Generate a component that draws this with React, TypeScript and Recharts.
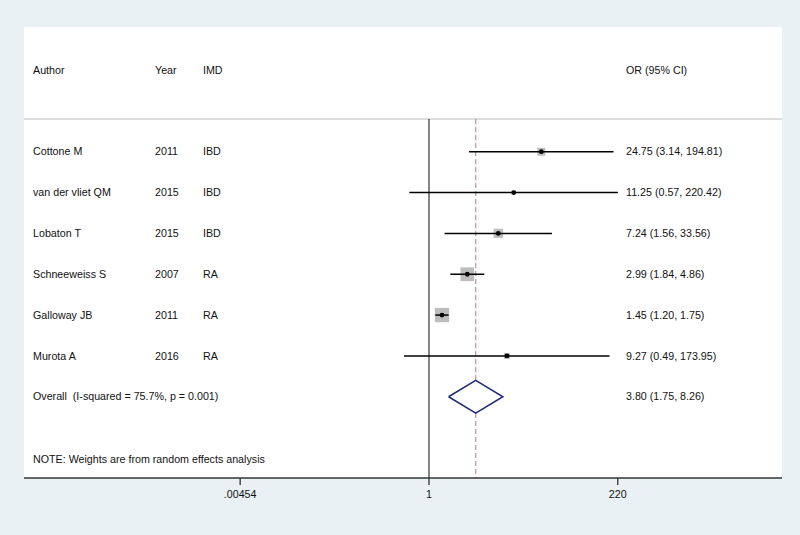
import React from "react";
import {
  ComposedChart,
  Scatter,
  XAxis,
  YAxis,
  ReferenceLine,
  ReferenceArea,
} from "recharts";

// study data
const authors = [
  "Cottone M",
  "van der vliet QM",
  "Lobaton T",
  "Schneeweiss S",
  "Galloway JB",
  "Murota A",
];
const years = [2011, 2015, 2015, 2007, 2011, 2016];
const imd = ["IBD", "IBD", "IBD", "RA", "RA", "RA"];
const orValues = [24.75, 11.25, 7.24, 2.99, 1.45, 9.27];
const ciLow = [3.14, 0.57, 1.56, 1.84, 1.2, 0.49];
const ciHigh = [194.81, 220.42, 33.56, 4.86, 1.75, 173.95];
const weights = [10.7, 2.7, 14.6, 31.5, 34.4, 6.1];

const overallOr = 3.8;
const overallLow = 1.75;
const overallHigh = 8.26;
const iSquared = 75.7;
const pValue = 0.001;

const xTicks = [0.00454, 1, 220];
const xTickLabels = [".00454", "1", "220"];

const FONT = "'Liberation Sans', Arial, Helvetica, sans-serif";
const FS = 10.7;
const TXT = "#111";
const COL_AUTHOR = 33;
const COL_YEAR = 155;
const COL_IMD = 203;
const COL_OR = 626;

// row layout (y in row units, 0 = first study)
const Y_DOMAIN: [number, number] = [-3.054, 7.99];
const Y_HEADER = -2.0;
const Y_SEP = -0.8;
const Y_OVERALL = authors.length;
const Y_NOTE = 7.52;
const DIAMOND_H = 0.4;
const X_DOMAIN: [number, number] = [Math.exp(-11.571), Math.exp(10.086)];

const fmt = (v: number) => v.toFixed(2);

const studies = authors.map((a, i) => ({
  author: a,
  year: years[i],
  imd: imd[i],
  or: orValues[i],
  lo: ciLow[i],
  hi: ciHigh[i],
  w: weights[i],
  y: i,
}));

const ciSegments = studies.map((s) => [
  { or: s.lo, y: s.y },
  { or: s.hi, y: s.y },
]);

const diamond = [
  { or: overallLow, y: Y_OVERALL },
  { or: overallOr, y: Y_OVERALL - DIAMOND_H },
  { or: overallHigh, y: Y_OVERALL },
  { or: overallOr, y: Y_OVERALL + DIAMOND_H },
  { or: overallLow, y: Y_OVERALL },
];

const textRows = [
  { or: 1, y: Y_HEADER, kind: "header" },
  ...studies.map((s) => ({ ...s, kind: "study" })),
  { or: 1, y: Y_OVERALL, kind: "overall" },
  { or: 1, y: Y_NOTE, kind: "note" },
];

const txt = (x: number, y: number, s: string, key: string) => (
  <text
    key={key}
    x={x}
    y={y}
    dy="0.35em"
    fontFamily={FONT}
    fontSize={FS}
    fill={TXT}
    style={{ whiteSpace: "pre" }}
  >
    {s}
  </text>
);

function RowText(props: any) {
  const { cy, payload } = props;
  if (payload.kind === "header") {
    return (
      <g>
        {txt(COL_AUTHOR, cy, "Author", "a")}
        {txt(COL_YEAR, cy, "Year", "y")}
        {txt(COL_IMD, cy, "IMD", "i")}
        {txt(COL_OR, cy, "OR (95% CI)", "o")}
      </g>
    );
  }
  if (payload.kind === "study") {
    return (
      <g>
        {txt(COL_AUTHOR, cy, payload.author, "a")}
        {txt(COL_YEAR, cy, String(payload.year), "y")}
        {txt(COL_IMD, cy, payload.imd, "i")}
        {txt(COL_OR, cy, `${fmt(payload.or)} (${fmt(payload.lo)}, ${fmt(payload.hi)})`, "o")}
      </g>
    );
  }
  if (payload.kind === "overall") {
    return (
      <g>
        {txt(
          COL_AUTHOR,
          cy,
          `Overall  (I-squared = ${iSquared.toFixed(1)}%, p = ${pValue.toFixed(3)})`,
          "a"
        )}
        {txt(COL_OR, cy, `${fmt(overallOr)} (${fmt(overallLow)}, ${fmt(overallHigh)})`, "o")}
      </g>
    );
  }
  return <g>{txt(COL_AUTHOR, cy, "NOTE: Weights are from random effects analysis", "n")}</g>;
}

function WeightBox(props: any) {
  const { cx, cy, payload } = props;
  const side = 2.44 * Math.sqrt(payload.w);
  return <rect x={cx - side / 2} y={cy - side / 2} width={side} height={side} fill="#bdbdbd" />;
}

function Dot(props: any) {
  const { cx, cy } = props;
  return <circle cx={cx} cy={cy} r={2.4} fill="#000" />;
}

const Nothing = () => <g />;

export default function App() {
  return (
    <div
      style={{
        position: "absolute",
        left: 0,
        top: 0,
        width: 800,
        height: 535,
        background: "#e9f1f4",
      }}
    >
      <ComposedChart
        width={800}
        height={535}
        margin={{ top: 27, right: 18, bottom: 0, left: 24 }}
      >
        <XAxis
          type="number"
          dataKey="or"
          scale="log"
          domain={X_DOMAIN}
          allowDataOverflow
          ticks={xTicks}
          tickFormatter={(v: number) => xTickLabels[xTicks.indexOf(v)] ?? String(v)}
          height={57}
          tickSize={7}
          tickMargin={5}
          axisLine={{ stroke: "#333", strokeWidth: 1.3 }}
          tickLine={{ stroke: "#333", strokeWidth: 1.3 }}
          tick={{ fontFamily: FONT, fontSize: FS, fill: TXT }}
        />
        <YAxis type="number" dataKey="y" domain={Y_DOMAIN} reversed hide allowDataOverflow />
        <ReferenceArea
          x1={X_DOMAIN[0]}
          x2={X_DOMAIN[1]}
          y1={Y_DOMAIN[0]}
          y2={Y_DOMAIN[1]}
          fill="#ffffff"
          fillOpacity={1}
          stroke="none"
        />
        <ReferenceLine
          segment={[
            { x: X_DOMAIN[0], y: Y_SEP },
            { x: X_DOMAIN[1], y: Y_SEP },
          ]}
          stroke="#dcdcdc"
          strokeWidth={2}
        />
        <ReferenceLine
          segment={[
            { x: 1, y: Y_SEP },
            { x: 1, y: Y_DOMAIN[1] },
          ]}
          stroke="#333"
          strokeWidth={1.2}
        />
        <ReferenceLine
          segment={[
            { x: overallOr, y: Y_SEP },
            { x: overallOr, y: Y_OVERALL - DIAMOND_H },
          ]}
          stroke="#c49a9e"
          strokeWidth={1.3}
          strokeDasharray="5 3"
        />
        <ReferenceLine
          segment={[
            { x: overallOr, y: Y_OVERALL + DIAMOND_H },
            { x: overallOr, y: Y_DOMAIN[1] },
          ]}
          stroke="#c49a9e"
          strokeWidth={1.3}
          strokeDasharray="5 3"
        />
        <Scatter
          data={studies}
          dataKey="or"
          shape={WeightBox}
          isAnimationActive={false}
        />
        {ciSegments.map((seg, i) => (
          <Scatter
            key={`ci-${i}`}
            data={seg}
            dataKey="or"
            line={{ stroke: "#000", strokeWidth: 1.5, fill: "none" }}
            lineType="joint"
            shape={Nothing}
            isAnimationActive={false}
          />
        ))}
        <Scatter data={studies} dataKey="or" shape={Dot} isAnimationActive={false} />
        <Scatter
          data={diamond}
          dataKey="or"
          line={{ stroke: "#1f2a7a", strokeWidth: 1.5, fill: "none" }}
          lineType="joint"
          shape={Nothing}
          isAnimationActive={false}
        />
        <Scatter data={textRows} dataKey="or" shape={RowText} isAnimationActive={false} />
      </ComposedChart>
    </div>
  );
}
